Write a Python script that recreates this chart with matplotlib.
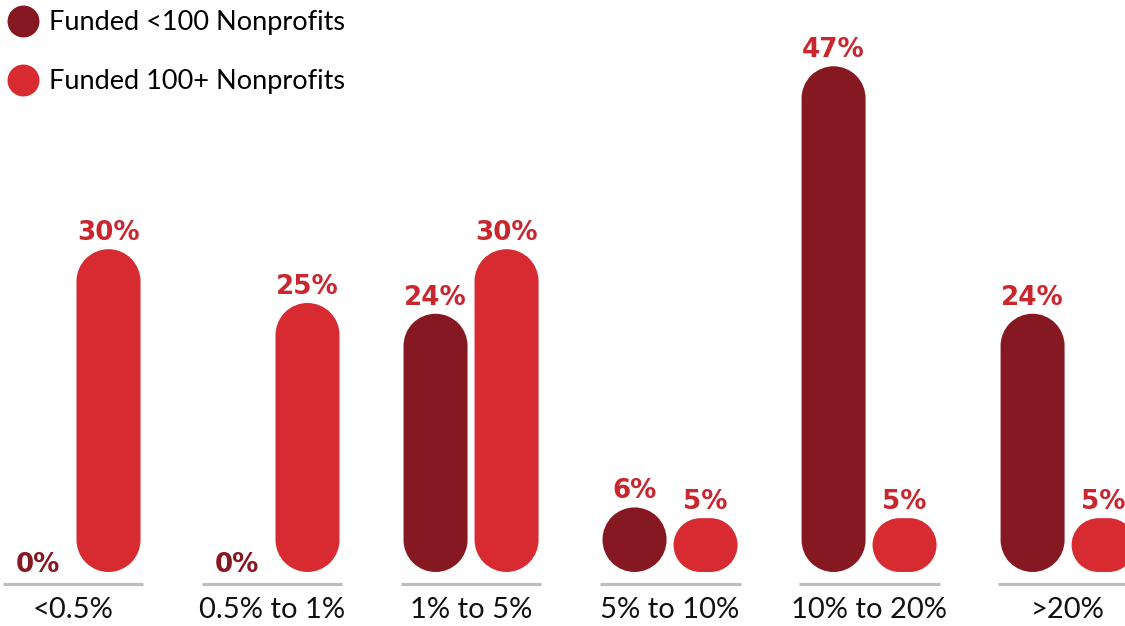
import numpy as np
import matplotlib.pyplot as plt
from matplotlib.patches import PathPatch
from matplotlib.path import Path
from matplotlib.lines import Line2D

categories = ['<0.5%', '0.5% to 1%', '1% to 5%', '5% to 10%', '10% to 20%', '>20%']
under_100 = [0, 0, 24, 6, 47, 24]
over_100 = [30, 25, 30, 5, 5, 5]

dark = '#861821'
red = '#D72B31'
label_red = '#C9262E'

plt.rcParams['font.family'] = ['Lato', 'DejaVu Sans']

fig = plt.figure(figsize=(11.25, 6.26), dpi=100)
ax = fig.add_axes([0, 0, 1, 1])
ax.set_xlim(-0.3668, 5.286)
ax.set_ylim(-5.02, 53.16)
ax.axis('off')

# y units per x unit on screen, so the rounded ends come out circular
W, H = fig.get_size_inches() * fig.dpi
aspect = ((53.16 + 5.02) / H) / ((5.286 + 0.3668) / W)

w = 0.3216
off = 0.1784


def pill(xc, h, color):
    x0 = xc - w / 2
    hh = h / aspect
    r = min(w, hh) / 2
    corners = [(x0 + w - r, r, 270, 360), (x0 + w - r, hh - r, 0, 90),
               (x0 + r, hh - r, 90, 180), (x0 + r, r, 180, 270)]
    verts, codes = [], []
    for k, (cx, cy, t1, t2) in enumerate(corners):
        arc = Path.arc(t1, t2)
        verts.extend(arc.vertices * r + [cx, cy])
        c = list(arc.codes)
        if k > 0:
            c[0] = Path.LINETO
        codes.extend(c)
    verts.append(verts[0])
    codes.append(Path.CLOSEPOLY)
    verts = np.array(verts)
    verts[:, 1] *= aspect
    ax.add_patch(PathPatch(Path(verts, codes), fc=color, ec='none'))


lab = dict(ha='center', va='baseline', fontsize=18.8, fontweight='bold',
           family='DejaVu Sans')

for i, (a, b) in enumerate(zip(under_100, over_100)):
    for xc, v, col in [(i - off, a, dark), (i + off, b, red)]:
        if v > 0:
            pill(xc, v, col)
            ax.annotate(f'{v}%', (xc, v), xytext=(0, 6.5), textcoords='offset points',
                        color=label_red, **lab)
        else:
            ax.text(xc, 0, f'{v}%', color=dark, **lab)
    ax.plot([i - 0.354, i + 0.354], [-1.1, -1.1], color='#BEBEBE', lw=2.3,
            solid_capstyle='butt')
    ax.text(i, -4.27, categories[i], ha='center', va='baseline', fontsize=21,
            color='#111111')

handles = [Line2D([], [], ls='none', marker='o', ms=23, mfc=dark, mec='none'),
           Line2D([], [], ls='none', marker='o', ms=23, mfc=red, mec='none')]
fig.legend(handles, ['Funded <100 Nonprofits', 'Funded 100+ Nonprofits'],
           loc='upper left', bbox_to_anchor=(8 / 1125, 1 - 10 / 626), frameon=False,
           borderpad=0, borderaxespad=0, handlelength=1.1, handletextpad=0.4,
           labelspacing=1.27, fontsize=19.5)

fig.savefig('out.png', dpi=100)
